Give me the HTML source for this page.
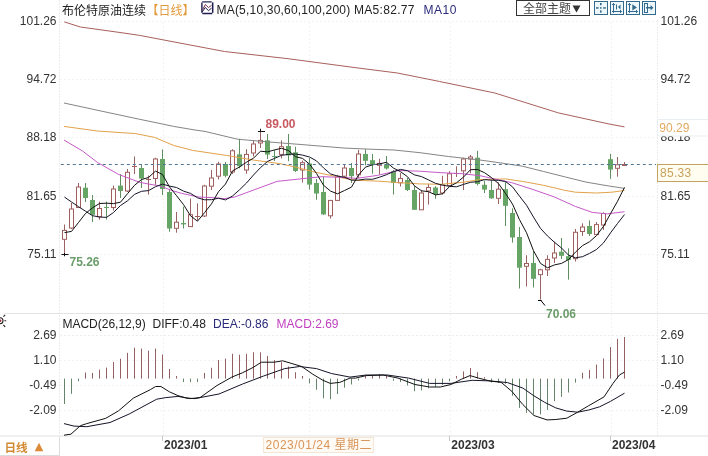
<!DOCTYPE html><html><head><meta charset="utf-8"><style>
html,body{margin:0;padding:0;background:#fff;}
body{width:708px;height:456px;overflow:hidden;position:relative;}
svg{position:absolute;left:0;top:0;display:block;}
text{font-family:'Liberation Sans','Noto Sans CJK SC',sans-serif;font-size:12px;}
.b{font-weight:bold;}
</style></head><body>
<svg width="708" height="456" viewBox="0 0 708 456">
<line x1="60" y1="21.5" x2="657" y2="21.5" stroke="#f3f3f3" stroke-width="1" stroke-dasharray="2,2"/>
<line x1="60" y1="79.5" x2="657" y2="79.5" stroke="#f3f3f3" stroke-width="1" stroke-dasharray="2,2"/>
<line x1="60" y1="137.5" x2="657" y2="137.5" stroke="#f3f3f3" stroke-width="1" stroke-dasharray="2,2"/>
<line x1="60" y1="196.5" x2="657" y2="196.5" stroke="#f3f3f3" stroke-width="1" stroke-dasharray="2,2"/>
<line x1="60" y1="254.5" x2="657" y2="254.5" stroke="#f3f3f3" stroke-width="1" stroke-dasharray="2,2"/>
<line x1="60" y1="335.5" x2="657" y2="335.5" stroke="#ececec" stroke-width="1" stroke-dasharray="2,2"/>
<line x1="60" y1="360.5" x2="657" y2="360.5" stroke="#f3f3f3" stroke-width="1" stroke-dasharray="2,2"/>
<line x1="60" y1="385.5" x2="657" y2="385.5" stroke="#f3f3f3" stroke-width="1" stroke-dasharray="2,2"/>
<line x1="60" y1="410.5" x2="657" y2="410.5" stroke="#f3f3f3" stroke-width="1" stroke-dasharray="2,2"/>
<line x1="163.5" y1="22" x2="163.5" y2="436" stroke="#f3f3f3" stroke-width="1" stroke-dasharray="2,2"/>
<line x1="309.5" y1="22" x2="309.5" y2="436" stroke="#f3f3f3" stroke-width="1" stroke-dasharray="2,2"/>
<line x1="450.5" y1="22" x2="450.5" y2="436" stroke="#f3f3f3" stroke-width="1" stroke-dasharray="2,2"/>
<line x1="611.5" y1="22" x2="611.5" y2="436" stroke="#f3f3f3" stroke-width="1" stroke-dasharray="2,2"/>
<line x1="59.5" y1="0" x2="59.5" y2="436" stroke="#ececec" stroke-width="1" stroke-dasharray="2,1"/>
<line x1="657.5" y1="20" x2="657.5" y2="436" stroke="#ececec" stroke-width="1" stroke-dasharray="2,1"/>
<line x1="5" y1="313.5" x2="708" y2="313.5" stroke="#e4e4e4" stroke-width="1"/>
<line x1="0" y1="436" x2="708" y2="436" stroke="#e0e0e0" stroke-width="1"/>
<line x1="59.5" y1="437" x2="59.5" y2="456" stroke="#dcdcdc" stroke-width="1"/>
<line x1="162.5" y1="436" x2="162.5" y2="441" stroke="#c8c8c8" stroke-width="1"/>
<line x1="449.5" y1="436" x2="449.5" y2="441" stroke="#c8c8c8" stroke-width="1"/>
<line x1="610.5" y1="436" x2="610.5" y2="441" stroke="#c8c8c8" stroke-width="1"/>
<line x1="64.5" y1="224.5" x2="64.5" y2="230.4" stroke="#9a6262" stroke-width="1"/>
<line x1="64.5" y1="239.3" x2="64.5" y2="254.5" stroke="#9a6262" stroke-width="1"/>
<rect x="62.5" y="230.4" width="4" height="8.9" fill="#fff" stroke="#a05e5e" stroke-width="1"/>
<line x1="71.5" y1="203.0" x2="71.5" y2="209.0" stroke="#9a6262" stroke-width="1"/>
<line x1="71.5" y1="228.0" x2="71.5" y2="229.0" stroke="#9a6262" stroke-width="1"/>
<rect x="69.5" y="209.0" width="4" height="19.0" fill="#fff" stroke="#a05e5e" stroke-width="1"/>
<line x1="78.5" y1="183.0" x2="78.5" y2="187.0" stroke="#9a6262" stroke-width="1"/>
<line x1="78.5" y1="207.5" x2="78.5" y2="208.0" stroke="#9a6262" stroke-width="1"/>
<rect x="76.5" y="187.0" width="4" height="20.5" fill="#fff" stroke="#a05e5e" stroke-width="1"/>
<line x1="85.5" y1="183.0" x2="85.5" y2="202.0" stroke="#5f8f5f" stroke-width="1"/>
<rect x="83.0" y="187.7" width="5" height="10.3" fill="#66a566"/>
<line x1="92.5" y1="195.0" x2="92.5" y2="222.0" stroke="#5f8f5f" stroke-width="1"/>
<rect x="90.0" y="200.0" width="5" height="14.8" fill="#66a566"/>
<line x1="99.5" y1="201.6" x2="99.5" y2="208.5" stroke="#9a6262" stroke-width="1"/>
<line x1="99.5" y1="216.7" x2="99.5" y2="219.7" stroke="#9a6262" stroke-width="1"/>
<rect x="97.5" y="208.5" width="4" height="8.2" fill="#fff" stroke="#a05e5e" stroke-width="1"/>
<line x1="106.5" y1="201.6" x2="106.5" y2="219.5" stroke="#5f8f5f" stroke-width="1"/>
<line x1="104.0" y1="207.5" x2="109.0" y2="207.5" stroke="#66a566" stroke-width="1"/>
<line x1="113.5" y1="185.6" x2="113.5" y2="189.0" stroke="#9a6262" stroke-width="1"/>
<line x1="113.5" y1="207.5" x2="113.5" y2="210.6" stroke="#9a6262" stroke-width="1"/>
<rect x="111.5" y="189.0" width="4" height="18.5" fill="#fff" stroke="#a05e5e" stroke-width="1"/>
<line x1="120.5" y1="174.0" x2="120.5" y2="198.0" stroke="#5f8f5f" stroke-width="1"/>
<rect x="118.0" y="185.6" width="5" height="5.4" fill="#66a566"/>
<line x1="127.5" y1="169.0" x2="127.5" y2="172.3" stroke="#9a6262" stroke-width="1"/>
<line x1="127.5" y1="191.0" x2="127.5" y2="192.0" stroke="#9a6262" stroke-width="1"/>
<rect x="125.5" y="172.3" width="4" height="18.7" fill="#fff" stroke="#a05e5e" stroke-width="1"/>
<line x1="134.5" y1="156.5" x2="134.5" y2="174.0" stroke="#9a6262" stroke-width="1"/>
<line x1="132.0" y1="166.5" x2="137.0" y2="166.5" stroke="#a05e5e" stroke-width="1"/>
<line x1="141.5" y1="164.6" x2="141.5" y2="188.0" stroke="#5f8f5f" stroke-width="1"/>
<rect x="139.0" y="168.0" width="5" height="10.5" fill="#66a566"/>
<line x1="148.5" y1="175.5" x2="148.5" y2="194.6" stroke="#9a6262" stroke-width="1"/>
<line x1="146.0" y1="179.5" x2="151.0" y2="179.5" stroke="#a05e5e" stroke-width="1"/>
<line x1="155.5" y1="157.7" x2="155.5" y2="159.0" stroke="#9a6262" stroke-width="1"/>
<line x1="155.5" y1="178.5" x2="155.5" y2="184.8" stroke="#9a6262" stroke-width="1"/>
<rect x="153.5" y="159.0" width="4" height="19.5" fill="#fff" stroke="#a05e5e" stroke-width="1"/>
<line x1="162.5" y1="149.4" x2="162.5" y2="195.0" stroke="#5f8f5f" stroke-width="1"/>
<rect x="160.0" y="159.0" width="5" height="30.0" fill="#66a566"/>
<line x1="169.5" y1="189.0" x2="169.5" y2="231.7" stroke="#5f8f5f" stroke-width="1"/>
<rect x="167.0" y="192.0" width="5" height="36.5" fill="#66a566"/>
<line x1="176.5" y1="212.0" x2="176.5" y2="222.2" stroke="#9a6262" stroke-width="1"/>
<line x1="176.5" y1="228.3" x2="176.5" y2="232.7" stroke="#9a6262" stroke-width="1"/>
<rect x="174.5" y="222.2" width="4" height="6.1" fill="#fff" stroke="#a05e5e" stroke-width="1"/>
<line x1="183.5" y1="206.7" x2="183.5" y2="228.5" stroke="#5f8f5f" stroke-width="1"/>
<rect x="181.0" y="223.0" width="5" height="1.4" fill="#66a566"/>
<line x1="190.5" y1="198.5" x2="190.5" y2="214.7" stroke="#9a6262" stroke-width="1"/>
<line x1="190.5" y1="226.6" x2="190.5" y2="227.0" stroke="#9a6262" stroke-width="1"/>
<rect x="188.5" y="214.7" width="4" height="11.9" fill="#fff" stroke="#a05e5e" stroke-width="1"/>
<line x1="197.5" y1="203.3" x2="197.5" y2="220.4" stroke="#9a6262" stroke-width="1"/>
<line x1="195.0" y1="216.5" x2="200.0" y2="216.5" stroke="#a05e5e" stroke-width="1"/>
<line x1="204.5" y1="184.8" x2="204.5" y2="186.0" stroke="#9a6262" stroke-width="1"/>
<line x1="204.5" y1="216.0" x2="204.5" y2="217.0" stroke="#9a6262" stroke-width="1"/>
<rect x="202.5" y="186.0" width="4" height="30.0" fill="#fff" stroke="#a05e5e" stroke-width="1"/>
<line x1="211.5" y1="170.0" x2="211.5" y2="178.0" stroke="#9a6262" stroke-width="1"/>
<line x1="211.5" y1="186.2" x2="211.5" y2="190.0" stroke="#9a6262" stroke-width="1"/>
<rect x="209.5" y="178.0" width="4" height="8.2" fill="#fff" stroke="#a05e5e" stroke-width="1"/>
<line x1="218.5" y1="161.7" x2="218.5" y2="164.0" stroke="#9a6262" stroke-width="1"/>
<line x1="218.5" y1="176.2" x2="218.5" y2="179.4" stroke="#9a6262" stroke-width="1"/>
<rect x="216.5" y="164.0" width="4" height="12.2" fill="#fff" stroke="#a05e5e" stroke-width="1"/>
<line x1="225.5" y1="162.0" x2="225.5" y2="177.3" stroke="#5f8f5f" stroke-width="1"/>
<rect x="223.0" y="164.0" width="5" height="11.8" fill="#66a566"/>
<line x1="232.5" y1="149.2" x2="232.5" y2="150.8" stroke="#9a6262" stroke-width="1"/>
<line x1="232.5" y1="172.0" x2="232.5" y2="174.0" stroke="#9a6262" stroke-width="1"/>
<rect x="230.5" y="150.8" width="4" height="21.2" fill="#fff" stroke="#a05e5e" stroke-width="1"/>
<line x1="239.5" y1="138.8" x2="239.5" y2="168.3" stroke="#5f8f5f" stroke-width="1"/>
<rect x="237.0" y="154.4" width="5" height="11.8" fill="#66a566"/>
<line x1="246.5" y1="149.2" x2="246.5" y2="154.4" stroke="#9a6262" stroke-width="1"/>
<line x1="246.5" y1="170.0" x2="246.5" y2="173.8" stroke="#9a6262" stroke-width="1"/>
<rect x="244.5" y="154.4" width="4" height="15.6" fill="#fff" stroke="#a05e5e" stroke-width="1"/>
<line x1="253.5" y1="140.8" x2="253.5" y2="144.0" stroke="#9a6262" stroke-width="1"/>
<line x1="253.5" y1="153.0" x2="253.5" y2="156.5" stroke="#9a6262" stroke-width="1"/>
<rect x="251.5" y="144.0" width="4" height="9.0" fill="#fff" stroke="#a05e5e" stroke-width="1"/>
<line x1="260.5" y1="130.8" x2="260.5" y2="140.4" stroke="#9a6262" stroke-width="1"/>
<line x1="260.5" y1="143.0" x2="260.5" y2="148.0" stroke="#9a6262" stroke-width="1"/>
<rect x="258.5" y="140.4" width="4" height="2.6" fill="#fff" stroke="#a05e5e" stroke-width="1"/>
<line x1="267.5" y1="134.0" x2="267.5" y2="159.0" stroke="#5f8f5f" stroke-width="1"/>
<rect x="265.0" y="140.4" width="5" height="14.2" fill="#66a566"/>
<line x1="274.5" y1="150.0" x2="274.5" y2="161.0" stroke="#5f8f5f" stroke-width="1"/>
<line x1="272.0" y1="156.5" x2="277.0" y2="156.5" stroke="#66a566" stroke-width="1"/>
<line x1="281.5" y1="140.4" x2="281.5" y2="146.7" stroke="#9a6262" stroke-width="1"/>
<line x1="281.5" y1="154.4" x2="281.5" y2="158.5" stroke="#9a6262" stroke-width="1"/>
<rect x="279.5" y="146.7" width="4" height="7.7" fill="#fff" stroke="#a05e5e" stroke-width="1"/>
<line x1="288.5" y1="134.0" x2="288.5" y2="161.2" stroke="#5f8f5f" stroke-width="1"/>
<rect x="286.0" y="146.0" width="5" height="9.4" fill="#66a566"/>
<line x1="295.5" y1="146.7" x2="295.5" y2="172.0" stroke="#5f8f5f" stroke-width="1"/>
<rect x="293.0" y="152.3" width="5" height="18.7" fill="#66a566"/>
<line x1="302.5" y1="160.6" x2="302.5" y2="162.7" stroke="#9a6262" stroke-width="1"/>
<line x1="302.5" y1="170.0" x2="302.5" y2="182.5" stroke="#9a6262" stroke-width="1"/>
<rect x="300.5" y="162.7" width="4" height="7.3" fill="#fff" stroke="#a05e5e" stroke-width="1"/>
<line x1="309.5" y1="158.0" x2="309.5" y2="189.6" stroke="#5f8f5f" stroke-width="1"/>
<rect x="307.0" y="163.5" width="5" height="21.1" fill="#66a566"/>
<line x1="316.5" y1="179.0" x2="316.5" y2="199.8" stroke="#5f8f5f" stroke-width="1"/>
<rect x="314.0" y="183.0" width="5" height="10.5" fill="#66a566"/>
<line x1="323.5" y1="177.0" x2="323.5" y2="215.0" stroke="#5f8f5f" stroke-width="1"/>
<rect x="321.0" y="192.0" width="5" height="22.4" fill="#66a566"/>
<line x1="330.5" y1="200.0" x2="330.5" y2="200.4" stroke="#9a6262" stroke-width="1"/>
<line x1="330.5" y1="215.8" x2="330.5" y2="218.5" stroke="#9a6262" stroke-width="1"/>
<rect x="328.5" y="200.4" width="4" height="15.4" fill="#fff" stroke="#a05e5e" stroke-width="1"/>
<line x1="337.5" y1="174.8" x2="337.5" y2="176.2" stroke="#9a6262" stroke-width="1"/>
<line x1="337.5" y1="200.4" x2="337.5" y2="201.0" stroke="#9a6262" stroke-width="1"/>
<rect x="335.5" y="176.2" width="4" height="24.2" fill="#fff" stroke="#a05e5e" stroke-width="1"/>
<line x1="344.5" y1="164.4" x2="344.5" y2="168.0" stroke="#9a6262" stroke-width="1"/>
<line x1="344.5" y1="176.2" x2="344.5" y2="177.0" stroke="#9a6262" stroke-width="1"/>
<rect x="342.5" y="168.0" width="4" height="8.2" fill="#fff" stroke="#a05e5e" stroke-width="1"/>
<line x1="351.5" y1="163.0" x2="351.5" y2="183.0" stroke="#5f8f5f" stroke-width="1"/>
<rect x="349.0" y="168.0" width="5" height="8.2" fill="#66a566"/>
<line x1="358.5" y1="149.8" x2="358.5" y2="154.0" stroke="#9a6262" stroke-width="1"/>
<line x1="358.5" y1="174.8" x2="358.5" y2="178.0" stroke="#9a6262" stroke-width="1"/>
<rect x="356.5" y="154.0" width="4" height="20.8" fill="#fff" stroke="#a05e5e" stroke-width="1"/>
<line x1="365.5" y1="149.2" x2="365.5" y2="165.4" stroke="#5f8f5f" stroke-width="1"/>
<rect x="363.0" y="154.0" width="5" height="6.8" fill="#66a566"/>
<line x1="372.5" y1="154.0" x2="372.5" y2="173.8" stroke="#5f8f5f" stroke-width="1"/>
<rect x="370.0" y="160.2" width="5" height="4.8" fill="#66a566"/>
<line x1="379.5" y1="158.8" x2="379.5" y2="163.4" stroke="#9a6262" stroke-width="1"/>
<line x1="379.5" y1="165.3" x2="379.5" y2="174.6" stroke="#9a6262" stroke-width="1"/>
<rect x="377.5" y="163.4" width="4" height="1.9" fill="#fff" stroke="#a05e5e" stroke-width="1"/>
<line x1="386.5" y1="156.0" x2="386.5" y2="169.6" stroke="#5f8f5f" stroke-width="1"/>
<rect x="384.0" y="164.4" width="5" height="4.1" fill="#66a566"/>
<line x1="393.5" y1="170.0" x2="393.5" y2="194.6" stroke="#5f8f5f" stroke-width="1"/>
<rect x="391.0" y="171.2" width="5" height="11.8" fill="#66a566"/>
<line x1="400.5" y1="173.0" x2="400.5" y2="178.4" stroke="#9a6262" stroke-width="1"/>
<line x1="400.5" y1="182.8" x2="400.5" y2="186.5" stroke="#9a6262" stroke-width="1"/>
<rect x="398.5" y="178.4" width="4" height="4.4" fill="#fff" stroke="#a05e5e" stroke-width="1"/>
<line x1="407.5" y1="178.0" x2="407.5" y2="191.0" stroke="#5f8f5f" stroke-width="1"/>
<rect x="405.0" y="180.0" width="5" height="10.0" fill="#66a566"/>
<line x1="414.5" y1="186.2" x2="414.5" y2="210.0" stroke="#5f8f5f" stroke-width="1"/>
<rect x="412.0" y="190.0" width="5" height="19.8" fill="#66a566"/>
<line x1="421.5" y1="190.0" x2="421.5" y2="193.0" stroke="#9a6262" stroke-width="1"/>
<line x1="421.5" y1="209.8" x2="421.5" y2="210.0" stroke="#9a6262" stroke-width="1"/>
<rect x="419.5" y="193.0" width="4" height="16.8" fill="#fff" stroke="#a05e5e" stroke-width="1"/>
<line x1="428.5" y1="183.8" x2="428.5" y2="187.5" stroke="#9a6262" stroke-width="1"/>
<line x1="428.5" y1="191.0" x2="428.5" y2="204.6" stroke="#9a6262" stroke-width="1"/>
<rect x="426.5" y="187.5" width="4" height="3.5" fill="#fff" stroke="#a05e5e" stroke-width="1"/>
<line x1="435.5" y1="186.2" x2="435.5" y2="198.8" stroke="#5f8f5f" stroke-width="1"/>
<rect x="433.0" y="187.5" width="5" height="6.5" fill="#66a566"/>
<line x1="442.5" y1="175.8" x2="442.5" y2="184.8" stroke="#9a6262" stroke-width="1"/>
<line x1="442.5" y1="193.0" x2="442.5" y2="194.6" stroke="#9a6262" stroke-width="1"/>
<rect x="440.5" y="184.8" width="4" height="8.2" fill="#fff" stroke="#a05e5e" stroke-width="1"/>
<line x1="449.5" y1="171.2" x2="449.5" y2="173.8" stroke="#9a6262" stroke-width="1"/>
<line x1="449.5" y1="185.4" x2="449.5" y2="186.2" stroke="#9a6262" stroke-width="1"/>
<rect x="447.5" y="173.8" width="4" height="11.7" fill="#fff" stroke="#a05e5e" stroke-width="1"/>
<line x1="456.5" y1="166.3" x2="456.5" y2="177.0" stroke="#9a6262" stroke-width="1"/>
<line x1="454.0" y1="173.5" x2="459.0" y2="173.5" stroke="#a05e5e" stroke-width="1"/>
<line x1="463.5" y1="157.7" x2="463.5" y2="159.0" stroke="#9a6262" stroke-width="1"/>
<line x1="463.5" y1="170.8" x2="463.5" y2="190.0" stroke="#9a6262" stroke-width="1"/>
<rect x="461.5" y="159.0" width="4" height="11.8" fill="#fff" stroke="#a05e5e" stroke-width="1"/>
<line x1="470.5" y1="155.0" x2="470.5" y2="157.0" stroke="#9a6262" stroke-width="1"/>
<line x1="470.5" y1="159.0" x2="470.5" y2="173.3" stroke="#9a6262" stroke-width="1"/>
<rect x="468.5" y="157.0" width="4" height="2.0" fill="#fff" stroke="#a05e5e" stroke-width="1"/>
<line x1="477.5" y1="150.8" x2="477.5" y2="185.4" stroke="#5f8f5f" stroke-width="1"/>
<rect x="475.0" y="157.7" width="5" height="26.3" fill="#66a566"/>
<line x1="484.5" y1="180.6" x2="484.5" y2="193.0" stroke="#5f8f5f" stroke-width="1"/>
<rect x="482.0" y="184.8" width="5" height="4.8" fill="#66a566"/>
<line x1="491.5" y1="180.0" x2="491.5" y2="198.8" stroke="#5f8f5f" stroke-width="1"/>
<rect x="489.0" y="190.0" width="5" height="8.3" fill="#66a566"/>
<line x1="498.5" y1="182.3" x2="498.5" y2="189.2" stroke="#9a6262" stroke-width="1"/>
<line x1="498.5" y1="198.3" x2="498.5" y2="204.0" stroke="#9a6262" stroke-width="1"/>
<rect x="496.5" y="189.2" width="4" height="9.1" fill="#fff" stroke="#a05e5e" stroke-width="1"/>
<line x1="505.5" y1="182.0" x2="505.5" y2="226.0" stroke="#5f8f5f" stroke-width="1"/>
<rect x="503.0" y="189.2" width="5" height="16.6" fill="#66a566"/>
<line x1="512.5" y1="208.3" x2="512.5" y2="242.7" stroke="#5f8f5f" stroke-width="1"/>
<rect x="510.0" y="213.0" width="5" height="24.5" fill="#66a566"/>
<line x1="519.5" y1="227.0" x2="519.5" y2="288.5" stroke="#5f8f5f" stroke-width="1"/>
<rect x="517.0" y="237.0" width="5" height="30.7" fill="#66a566"/>
<line x1="526.5" y1="255.2" x2="526.5" y2="263.5" stroke="#9a6262" stroke-width="1"/>
<line x1="526.5" y1="266.2" x2="526.5" y2="286.5" stroke="#9a6262" stroke-width="1"/>
<rect x="524.5" y="263.5" width="4" height="2.8" fill="#fff" stroke="#a05e5e" stroke-width="1"/>
<line x1="533.5" y1="251.0" x2="533.5" y2="287.5" stroke="#5f8f5f" stroke-width="1"/>
<rect x="531.0" y="263.0" width="5" height="15.8" fill="#66a566"/>
<line x1="540.5" y1="268.8" x2="540.5" y2="269.8" stroke="#9a6262" stroke-width="1"/>
<line x1="540.5" y1="274.6" x2="540.5" y2="299.6" stroke="#9a6262" stroke-width="1"/>
<rect x="538.5" y="269.8" width="4" height="4.8" fill="#fff" stroke="#a05e5e" stroke-width="1"/>
<line x1="547.5" y1="255.2" x2="547.5" y2="259.4" stroke="#9a6262" stroke-width="1"/>
<line x1="547.5" y1="269.8" x2="547.5" y2="276.0" stroke="#9a6262" stroke-width="1"/>
<rect x="545.5" y="259.4" width="4" height="10.4" fill="#fff" stroke="#a05e5e" stroke-width="1"/>
<line x1="554.5" y1="241.7" x2="554.5" y2="253.0" stroke="#9a6262" stroke-width="1"/>
<line x1="554.5" y1="258.0" x2="554.5" y2="263.0" stroke="#9a6262" stroke-width="1"/>
<rect x="552.5" y="253.0" width="4" height="5.0" fill="#fff" stroke="#a05e5e" stroke-width="1"/>
<line x1="561.5" y1="238.0" x2="561.5" y2="258.8" stroke="#5f8f5f" stroke-width="1"/>
<rect x="559.0" y="251.7" width="5" height="4.1" fill="#66a566"/>
<line x1="568.5" y1="248.3" x2="568.5" y2="279.6" stroke="#5f8f5f" stroke-width="1"/>
<rect x="566.0" y="256.2" width="5" height="3.8" fill="#66a566"/>
<line x1="575.5" y1="229.0" x2="575.5" y2="232.3" stroke="#9a6262" stroke-width="1"/>
<line x1="575.5" y1="258.8" x2="575.5" y2="261.5" stroke="#9a6262" stroke-width="1"/>
<rect x="573.5" y="232.3" width="4" height="26.4" fill="#fff" stroke="#a05e5e" stroke-width="1"/>
<line x1="582.5" y1="223.3" x2="582.5" y2="227.0" stroke="#9a6262" stroke-width="1"/>
<line x1="582.5" y1="231.5" x2="582.5" y2="236.0" stroke="#9a6262" stroke-width="1"/>
<rect x="580.5" y="227.0" width="4" height="4.5" fill="#fff" stroke="#a05e5e" stroke-width="1"/>
<line x1="589.5" y1="220.4" x2="589.5" y2="236.0" stroke="#5f8f5f" stroke-width="1"/>
<rect x="587.0" y="226.0" width="5" height="8.0" fill="#66a566"/>
<line x1="596.5" y1="222.0" x2="596.5" y2="224.6" stroke="#9a6262" stroke-width="1"/>
<line x1="596.5" y1="234.6" x2="596.5" y2="235.0" stroke="#9a6262" stroke-width="1"/>
<rect x="594.5" y="224.6" width="4" height="10.0" fill="#fff" stroke="#a05e5e" stroke-width="1"/>
<line x1="603.5" y1="212.3" x2="603.5" y2="213.5" stroke="#9a6262" stroke-width="1"/>
<line x1="603.5" y1="225.0" x2="603.5" y2="230.0" stroke="#9a6262" stroke-width="1"/>
<rect x="601.5" y="213.5" width="4" height="11.5" fill="#fff" stroke="#a05e5e" stroke-width="1"/>
<line x1="610.5" y1="153.8" x2="610.5" y2="178.8" stroke="#5f8f5f" stroke-width="1"/>
<rect x="608.0" y="159.2" width="5" height="10.4" fill="#66a566"/>
<line x1="617.5" y1="157.0" x2="617.5" y2="164.8" stroke="#9a6262" stroke-width="1"/>
<line x1="617.5" y1="168.3" x2="617.5" y2="176.7" stroke="#9a6262" stroke-width="1"/>
<rect x="615.5" y="164.8" width="4" height="3.5" fill="#fff" stroke="#a05e5e" stroke-width="1"/>
<line x1="624.5" y1="162.0" x2="624.5" y2="164.5" stroke="#9a6262" stroke-width="1"/>
<line x1="624.5" y1="165.3" x2="624.5" y2="165.8" stroke="#9a6262" stroke-width="1"/>
<rect x="622.5" y="164.5" width="4" height="1.0" fill="#fff" stroke="#a05e5e" stroke-width="1"/>
<polyline points="64.3,21.9 75.0,25.3 80.4,27.0 120.0,32.5 139.7,35.4 177.0,42.5 224.5,51.5 288.0,58.7 355.0,67.6 397.4,73.0 439.7,81.5 494.8,93.0 558.4,112.9 609.0,124.0 624.5,126.9" fill="none" stroke="#a8605c" stroke-width="1.0" stroke-linejoin="round" />
<polyline points="64.0,126.4 97.4,131.0 135.5,133.6 154.6,137.4 173.6,145.4 192.7,150.4 226.8,155.5 254.3,160.2 279.7,163.6 296.7,167.4 313.6,171.8 345.0,178.4 356.2,180.3 377.4,181.1 398.6,182.6 419.7,183.9 441.0,184.3 462.1,182.4 480.0,179.6 505.4,178.9 522.4,181.4 543.6,185.3 564.7,190.3 575.3,192.2 596.5,193.0 612.0,192.2 624.5,190.4" fill="none" stroke="#e2a24a" stroke-width="1.0" stroke-linejoin="round" />
<polyline points="64.0,103.0 100.0,110.8 139.7,119.3 158.0,123.1 173.6,126.4 195.0,130.0 205.0,131.4 237.4,139.2 269.2,142.0 301.0,144.5 345.0,148.1 370.0,149.2 394.0,150.0 420.0,152.7 448.5,156.5 480.0,160.0 505.4,163.6 522.4,166.2 543.6,171.5 564.7,176.8 586.0,182.1 607.0,185.7 624.5,188.4" fill="none" stroke="#858585" stroke-width="1.0" stroke-linejoin="round" />
<polyline points="64.0,140.0 82.5,151.0 97.4,162.4 118.5,174.4 139.7,182.3 150.0,184.3 160.6,186.0 171.2,190.3 181.8,193.4 198.7,197.0 213.6,197.7 224.2,198.7 234.7,197.0 255.9,189.2 277.1,181.4 301.0,178.8 322.0,176.7 345.0,177.5 356.2,178.4 377.4,175.4 398.6,170.5 419.7,171.2 441.0,172.7 462.1,173.7 480.0,175.7 492.7,178.5 511.8,182.7 533.0,189.5 554.2,196.9 575.3,206.4 592.3,212.4 607.1,213.9 624.5,211.7" fill="none" stroke="#c65ac8" stroke-width="1.0" stroke-linejoin="round" />
<polyline points="64.5,197.1 71.5,202.0 78.5,206.7 85.5,211.2 92.5,215.7 99.5,217.0 106.5,217.4 113.5,212.5 120.5,205.5 127.5,200.8 134.5,194.4 141.5,191.3 148.5,190.6 155.5,186.7 162.5,184.1 169.5,186.1 176.5,187.5 183.5,191.1 190.5,193.4 197.5,197.8 204.5,199.8 211.5,199.7 218.5,198.2 225.5,199.9 232.5,196.0 239.5,189.8 246.5,183.0 253.5,175.0 260.5,167.6 267.5,161.4 274.5,158.4 281.5,155.3 288.5,154.4 295.5,154.0 302.5,155.1 309.5,157.0 316.5,160.9 323.5,167.9 330.5,173.9 337.5,176.1 344.5,177.3 351.5,180.2 358.5,180.1 365.5,179.1 372.5,179.3 379.5,177.2 386.5,174.7 393.5,171.6 400.5,169.4 407.5,170.7 414.5,174.9 421.5,176.6 428.5,179.9 435.5,183.3 442.5,185.2 449.5,186.3 456.5,186.8 463.5,184.4 470.5,182.3 477.5,181.7 484.5,179.6 491.5,180.2 498.5,180.3 505.5,181.5 512.5,186.8 519.5,196.2 526.5,205.2 533.5,217.1 540.5,228.4 547.5,236.0 554.5,242.3 561.5,248.0 568.5,255.1 575.5,257.8 582.5,256.7 589.5,253.4 596.5,249.5 603.5,242.9 610.5,232.9 617.5,223.5 624.5,214.6" fill="none" stroke="#141428" stroke-width="1.0" stroke-linejoin="round" />
<polyline points="64.5,232.6 71.5,231.4 78.5,222.5 85.5,213.5 92.5,207.8 99.5,203.5 106.5,203.2 113.5,203.6 120.5,202.2 127.5,193.7 134.5,185.3 141.5,179.5 148.5,177.5 155.5,171.1 162.5,174.5 169.5,186.9 176.5,195.6 183.5,204.6 190.5,215.8 197.5,221.2 204.5,212.7 211.5,203.8 218.5,191.7 225.5,184.0 232.5,170.9 239.5,167.0 246.5,162.2 253.5,158.2 260.5,151.2 267.5,151.9 274.5,149.9 281.5,148.3 288.5,150.6 295.5,156.7 302.5,158.4 309.5,164.1 316.5,173.4 323.5,185.2 330.5,191.1 337.5,193.8 344.5,190.5 351.5,187.1 358.5,175.0 365.5,167.1 372.5,164.8 379.5,163.9 386.5,162.3 393.5,168.1 400.5,171.7 407.5,176.7 414.5,185.9 421.5,190.8 428.5,191.7 435.5,194.9 442.5,193.8 449.5,186.6 456.5,182.8 463.5,177.1 470.5,169.7 477.5,169.5 484.5,172.7 491.5,177.6 498.5,183.6 505.5,193.4 512.5,204.1 519.5,219.7 526.5,232.7 533.5,250.7 540.5,263.4 547.5,267.8 554.5,264.9 561.5,263.4 568.5,259.6 575.5,252.1 582.5,245.6 589.5,241.8 596.5,235.6 603.5,226.3 610.5,213.7 617.5,201.3 624.5,187.4" fill="none" stroke="#111111" stroke-width="1.0" stroke-linejoin="round" />
<line x1="60.8" y1="164.5" x2="656" y2="164.5" stroke="#4f7596" stroke-width="1" stroke-dasharray="3,3"/>
<path d="M258,131.5H265M260.5,128.8V132" stroke="#111" stroke-width="1" fill="none"/>
<text x="265.5" y="127.8" class="b" fill="#c85a62">89.00</text>
<path d="M61.5,254.5H68.5M64.5,253V256.3" stroke="#111" stroke-width="1" fill="none"/>
<text x="69.5" y="265.8" class="b" fill="#6a9c6a">75.26</text>
<path d="M538,300.5H541.5M540.5,300L545,305.5" stroke="#000" stroke-width="1" fill="none"/>
<text x="546" y="317.8" class="b" fill="#6a9c6a">70.06</text>
<line x1="64.5" y1="378.6" x2="64.5" y2="404.0" stroke="#66846c" stroke-width="1"/>
<line x1="71.5" y1="378.6" x2="71.5" y2="393.8" stroke="#66846c" stroke-width="1"/>
<line x1="78.5" y1="378.6" x2="78.5" y2="381.2" stroke="#66846c" stroke-width="1"/>
<line x1="85.5" y1="378.6" x2="85.5" y2="372.5" stroke="#946062" stroke-width="1"/>
<line x1="92.5" y1="378.6" x2="92.5" y2="373.0" stroke="#946062" stroke-width="1"/>
<line x1="99.5" y1="378.6" x2="99.5" y2="369.7" stroke="#946062" stroke-width="1"/>
<line x1="106.5" y1="378.6" x2="106.5" y2="367.6" stroke="#946062" stroke-width="1"/>
<line x1="113.5" y1="378.6" x2="113.5" y2="362.0" stroke="#946062" stroke-width="1"/>
<line x1="120.5" y1="378.6" x2="120.5" y2="358.7" stroke="#946062" stroke-width="1"/>
<line x1="127.5" y1="378.6" x2="127.5" y2="352.8" stroke="#946062" stroke-width="1"/>
<line x1="134.5" y1="378.6" x2="134.5" y2="347.7" stroke="#946062" stroke-width="1"/>
<line x1="141.5" y1="378.6" x2="141.5" y2="348.6" stroke="#946062" stroke-width="1"/>
<line x1="148.5" y1="378.6" x2="148.5" y2="350.7" stroke="#946062" stroke-width="1"/>
<line x1="155.5" y1="378.6" x2="155.5" y2="348.6" stroke="#946062" stroke-width="1"/>
<line x1="162.5" y1="378.6" x2="162.5" y2="354.6" stroke="#946062" stroke-width="1"/>
<line x1="169.5" y1="378.6" x2="169.5" y2="369.0" stroke="#946062" stroke-width="1"/>
<line x1="176.5" y1="378.6" x2="176.5" y2="376.0" stroke="#946062" stroke-width="1"/>
<line x1="183.5" y1="378.6" x2="183.5" y2="382.0" stroke="#66846c" stroke-width="1"/>
<line x1="190.5" y1="378.6" x2="190.5" y2="382.0" stroke="#66846c" stroke-width="1"/>
<line x1="197.5" y1="378.6" x2="197.5" y2="382.0" stroke="#66846c" stroke-width="1"/>
<line x1="204.5" y1="378.6" x2="204.5" y2="373.0" stroke="#946062" stroke-width="1"/>
<line x1="211.5" y1="378.6" x2="211.5" y2="367.8" stroke="#946062" stroke-width="1"/>
<line x1="218.5" y1="378.6" x2="218.5" y2="360.0" stroke="#946062" stroke-width="1"/>
<line x1="225.5" y1="378.6" x2="225.5" y2="358.6" stroke="#946062" stroke-width="1"/>
<line x1="232.5" y1="378.6" x2="232.5" y2="353.8" stroke="#946062" stroke-width="1"/>
<line x1="239.5" y1="378.6" x2="239.5" y2="354.7" stroke="#946062" stroke-width="1"/>
<line x1="246.5" y1="378.6" x2="246.5" y2="353.8" stroke="#946062" stroke-width="1"/>
<line x1="253.5" y1="378.6" x2="253.5" y2="352.3" stroke="#946062" stroke-width="1"/>
<line x1="260.5" y1="378.6" x2="260.5" y2="352.3" stroke="#946062" stroke-width="1"/>
<line x1="267.5" y1="378.6" x2="267.5" y2="355.9" stroke="#946062" stroke-width="1"/>
<line x1="274.5" y1="378.6" x2="274.5" y2="360.1" stroke="#946062" stroke-width="1"/>
<line x1="281.5" y1="378.6" x2="281.5" y2="362.2" stroke="#946062" stroke-width="1"/>
<line x1="288.5" y1="378.6" x2="288.5" y2="366.5" stroke="#946062" stroke-width="1"/>
<line x1="295.5" y1="378.6" x2="295.5" y2="372.2" stroke="#946062" stroke-width="1"/>
<line x1="302.5" y1="378.6" x2="302.5" y2="376.0" stroke="#946062" stroke-width="1"/>
<line x1="309.5" y1="378.6" x2="309.5" y2="383.4" stroke="#66846c" stroke-width="1"/>
<line x1="316.5" y1="378.6" x2="316.5" y2="389.8" stroke="#66846c" stroke-width="1"/>
<line x1="323.5" y1="378.6" x2="323.5" y2="398.3" stroke="#66846c" stroke-width="1"/>
<line x1="330.5" y1="378.6" x2="330.5" y2="399.3" stroke="#66846c" stroke-width="1"/>
<line x1="337.5" y1="378.6" x2="337.5" y2="394.0" stroke="#66846c" stroke-width="1"/>
<line x1="344.5" y1="378.6" x2="344.5" y2="387.7" stroke="#66846c" stroke-width="1"/>
<line x1="351.5" y1="378.6" x2="351.5" y2="384.5" stroke="#66846c" stroke-width="1"/>
<line x1="358.5" y1="378.6" x2="358.5" y2="380.5" stroke="#66846c" stroke-width="1"/>
<line x1="365.5" y1="378.6" x2="365.5" y2="375.0" stroke="#946062" stroke-width="1"/>
<line x1="372.5" y1="378.6" x2="372.5" y2="375.5" stroke="#946062" stroke-width="1"/>
<line x1="379.5" y1="378.6" x2="379.5" y2="374.3" stroke="#946062" stroke-width="1"/>
<line x1="386.5" y1="378.6" x2="386.5" y2="376.0" stroke="#946062" stroke-width="1"/>
<line x1="393.5" y1="378.6" x2="393.5" y2="380.7" stroke="#66846c" stroke-width="1"/>
<line x1="400.5" y1="378.6" x2="400.5" y2="382.0" stroke="#66846c" stroke-width="1"/>
<line x1="407.5" y1="378.6" x2="407.5" y2="385.5" stroke="#66846c" stroke-width="1"/>
<line x1="414.5" y1="378.6" x2="414.5" y2="391.3" stroke="#66846c" stroke-width="1"/>
<line x1="421.5" y1="378.6" x2="421.5" y2="390.4" stroke="#66846c" stroke-width="1"/>
<line x1="428.5" y1="378.6" x2="428.5" y2="388.3" stroke="#66846c" stroke-width="1"/>
<line x1="435.5" y1="378.6" x2="435.5" y2="387.0" stroke="#66846c" stroke-width="1"/>
<line x1="442.5" y1="378.6" x2="442.5" y2="384.9" stroke="#66846c" stroke-width="1"/>
<line x1="449.5" y1="378.6" x2="449.5" y2="381.3" stroke="#66846c" stroke-width="1"/>
<line x1="456.5" y1="378.6" x2="456.5" y2="376.0" stroke="#946062" stroke-width="1"/>
<line x1="463.5" y1="378.6" x2="463.5" y2="371.4" stroke="#946062" stroke-width="1"/>
<line x1="470.5" y1="378.6" x2="470.5" y2="368.0" stroke="#946062" stroke-width="1"/>
<line x1="477.5" y1="378.6" x2="477.5" y2="372.2" stroke="#946062" stroke-width="1"/>
<line x1="484.5" y1="378.6" x2="484.5" y2="377.1" stroke="#946062" stroke-width="1"/>
<line x1="491.5" y1="378.6" x2="491.5" y2="382.5" stroke="#66846c" stroke-width="1"/>
<line x1="498.5" y1="378.6" x2="498.5" y2="383.0" stroke="#66846c" stroke-width="1"/>
<line x1="505.5" y1="378.6" x2="505.5" y2="383.7" stroke="#66846c" stroke-width="1"/>
<line x1="512.5" y1="378.6" x2="512.5" y2="395.8" stroke="#66846c" stroke-width="1"/>
<line x1="519.5" y1="378.6" x2="519.5" y2="407.9" stroke="#66846c" stroke-width="1"/>
<line x1="526.5" y1="378.6" x2="526.5" y2="412.9" stroke="#66846c" stroke-width="1"/>
<line x1="533.5" y1="378.6" x2="533.5" y2="414.4" stroke="#66846c" stroke-width="1"/>
<line x1="540.5" y1="378.6" x2="540.5" y2="414.4" stroke="#66846c" stroke-width="1"/>
<line x1="547.5" y1="378.6" x2="547.5" y2="410.0" stroke="#66846c" stroke-width="1"/>
<line x1="554.5" y1="378.6" x2="554.5" y2="401.3" stroke="#66846c" stroke-width="1"/>
<line x1="561.5" y1="378.6" x2="561.5" y2="396.9" stroke="#66846c" stroke-width="1"/>
<line x1="568.5" y1="378.6" x2="568.5" y2="392.5" stroke="#66846c" stroke-width="1"/>
<line x1="575.5" y1="378.6" x2="575.5" y2="382.6" stroke="#66846c" stroke-width="1"/>
<line x1="582.5" y1="378.6" x2="582.5" y2="372.8" stroke="#946062" stroke-width="1"/>
<line x1="589.5" y1="378.6" x2="589.5" y2="369.9" stroke="#946062" stroke-width="1"/>
<line x1="596.5" y1="378.6" x2="596.5" y2="364.6" stroke="#946062" stroke-width="1"/>
<line x1="603.5" y1="378.6" x2="603.5" y2="358.5" stroke="#946062" stroke-width="1"/>
<line x1="610.5" y1="378.6" x2="610.5" y2="347.1" stroke="#946062" stroke-width="1"/>
<line x1="617.5" y1="378.6" x2="617.5" y2="338.8" stroke="#946062" stroke-width="1"/>
<line x1="624.5" y1="378.6" x2="624.5" y2="337.0" stroke="#946062" stroke-width="1"/>
<polyline points="64.0,423.6 74.0,426.1 86.8,426.7 110.0,422.5 129.2,414.0 156.7,399.2 165.2,397.7 177.9,396.4 190.6,398.6 200.0,397.6 219.0,394.0 242.4,384.1 263.6,376.0 284.7,368.6 299.6,366.5 316.5,368.6 331.4,373.5 350.0,377.1 366.2,375.0 387.4,375.0 408.6,378.1 429.7,383.4 450.9,383.4 472.1,380.3 490.0,380.9 507.5,382.6 522.9,388.1 533.9,395.8 544.8,402.4 555.8,407.9 566.8,411.1 577.7,412.2 588.7,410.0 599.6,406.8 610.6,401.3 624.5,393.2" fill="none" stroke="#141428" stroke-width="1.0" stroke-linejoin="round" />
<polyline points="64.0,435.2 70.9,434.2 80.4,425.7 86.8,423.6 105.8,418.3 118.6,410.8 133.4,398.1 144.0,392.8 150.3,389.7 155.6,386.5 160.9,386.5 169.4,391.8 177.9,395.6 186.4,398.1 194.8,398.6 200.0,397.6 217.0,385.5 231.8,377.1 242.4,372.8 253.0,367.5 261.4,362.2 274.2,362.2 282.6,360.8 291.1,363.3 301.7,366.5 312.3,373.9 322.9,380.3 330.3,383.4 339.8,382.4 350.0,378.1 355.6,378.1 366.2,375.6 383.1,375.0 398.0,378.1 414.9,384.5 429.7,387.0 440.3,387.0 450.9,384.5 461.5,379.2 470.0,375.6 478.5,378.1 491.2,381.3 501.0,382.2 511.9,391.4 522.9,404.6 533.9,415.5 547.0,419.9 555.8,419.5 566.8,418.2 577.7,412.2 588.7,405.7 604.0,396.9 612.8,383.7 619.4,375.0 624.5,372.1" fill="none" stroke="#111111" stroke-width="1.0" stroke-linejoin="round" />
<text x="56.5" y="24.8" text-anchor="end" fill="#333">101.26</text>
<text x="56.5" y="82.8" text-anchor="end" fill="#333">94.72</text>
<text x="56.5" y="140.8" text-anchor="end" fill="#333">88.18</text>
<text x="56.5" y="199.7" text-anchor="end" fill="#333">81.65</text>
<text x="56.5" y="257.6" text-anchor="end" fill="#333">75.11</text>
<text x="56.5" y="339.3" text-anchor="end" fill="#333">2.69</text>
<text x="56.5" y="364" text-anchor="end" fill="#333">1.10</text>
<text x="56.5" y="389.3" text-anchor="end" fill="#333">-0.49</text>
<text x="56.5" y="414.4" text-anchor="end" fill="#333">-2.09</text>
<text x="660.5" y="24.8" fill="#333">101.26</text>
<text x="660.5" y="82.8" fill="#333">94.72</text>
<text x="660.5" y="140.8" fill="#333">88.18</text>
<text x="660.5" y="199.7" fill="#333">81.65</text>
<text x="660.5" y="257.6" fill="#333">75.11</text>
<text x="660.5" y="339.3" fill="#333">2.69</text>
<text x="660.5" y="364" fill="#333">1.10</text>
<text x="660.5" y="389.3" fill="#333">-0.49</text>
<text x="660.5" y="414.4" fill="#333">-2.09</text>
<rect x="657.5" y="119.5" width="52" height="16.5" fill="#fff" stroke="#e9eef3" stroke-width="1"/>
<text x="659.3" y="132.1" fill="#e2aa62">90.29</text>
<rect x="657.5" y="164.5" width="52" height="17" fill="#fffcf0" stroke="#c4a263" stroke-width="1"/>
<text x="660" y="176.8" fill="#c9a25c" letter-spacing="0.3">85.33</text>
<text x="62" y="14.5" fill="#222">布伦特原油连续</text>
<text x="146.5" y="14.5" fill="#e39a3c">【日线】</text>
<g stroke="#1c1c50" fill="none"><path d="M202.2,1.9H211.8" stroke-width="1.2"/><path d="M202.3,13.5H212.3" stroke-width="1.5"/><path d="M201.9,2.4V12.8" stroke-width="1.4"/><path d="M212.7,2.4V12.8" stroke-width="1.5"/></g>
<polyline points="202.5,9.8 205.3,4.6 208.5,7.6 211.6,5.2" fill="none" stroke="#7a3048" stroke-width="1"/>
<polyline points="202.2,11.9 205.3,7.5 208.5,10.6 211.6,8.1" fill="none" stroke="#1c1c50" stroke-width="1"/>
<text x="216.5" y="13.6" fill="#222" letter-spacing="0.2">MA(5,10,30,60,100,200)</text>
<text x="354" y="13.6" fill="#222" letter-spacing="0.3">MA5:82.77</text>
<text x="423.5" y="13.6" fill="#2a2a7a" letter-spacing="0.5">MA10</text>
<rect x="516.5" y="0.5" width="73" height="15" fill="#fff" stroke="#333" stroke-width="1"/>
<text x="523" y="12.8" fill="#444">全部主题</text>
<path d="M572.5,5.5H580.5L576.5,12.5Z" fill="#333"/>
<rect x="594.5" y="1.5" width="13" height="13" fill="#eef8fc" stroke="#33698c" stroke-width="1"/>
<rect x="610.5" y="1.5" width="13" height="13" fill="#eef8fc" stroke="#33698c" stroke-width="1"/>
<rect x="626.5" y="1.5" width="13" height="13" fill="#eef8fc" stroke="#33698c" stroke-width="1"/>
<rect x="642.5" y="1.5" width="13" height="13" fill="#eef8fc" stroke="#33698c" stroke-width="1"/>
<g fill="#33698c"><rect x="600" y="3" width="1.6" height="2.2"/><rect x="600" y="7.2" width="1.6" height="1.5"/><rect x="600" y="10.4" width="1.6" height="2.2"/><rect x="596" y="7.2" width="2.6" height="1.5"/><rect x="603.2" y="7.2" width="2.6" height="1.5"/></g>
<g stroke="#33698c" stroke-width="1" fill="none"><path d="M613.5,3.5V12.5M612,5L613.5,3.5L615,5M612,11L613.5,12.5L615,11M613.5,11.5H621.5M620,10L621.5,11.5L620,13M616.5,4.5V9.5"/></g>
<path d="M620.5,4.5V9.5L618,7Z" fill="#33698c"/>
<g stroke="#33698c" stroke-width="1" fill="none"><path d="M629.5,3.5V12.5M628,5L629.5,3.5L631,5M628,11L629.5,12.5L631,11M629.5,11.5H637.5M636,10L637.5,11.5L636,13"/></g>
<path d="M632.3,4.2V10.6L637,7.4Z" fill="#33698c"/>
<rect x="644.5" y="3.5" width="3" height="9" fill="none" stroke="#33698c" stroke-width="1"/>
<path d="M646,7H651V8.6H646Z M650.6,5L653.4,7.8L650.6,10.4Z" fill="#33698c"/>
<text x="62.4" y="328" fill="#222">MACD(26,12,9)</text>
<text x="152.5" y="328" fill="#222">DIFF:0.48</text>
<text x="213" y="328" fill="#2a2a7a">DEA:-0.86</text>
<text x="276.5" y="328" fill="#c040c0">MACD:2.69</text>
<g stroke="#222" stroke-width="1.1" fill="none"><circle cx="0" cy="320.8" r="3"/><path d="M3.4,316.6L5.2,314.8M4.4,320.8H6.2M3.4,325L5.2,326.8"/></g>
<circle cx="0.2" cy="320.8" r="1.2" fill="#a03040"/>
<text x="4.5" y="451.6" class="b" fill="#d28a32" style="font-size:11.6px">日线</text>
<line x1="0" y1="455.5" x2="59" y2="455.5" stroke="#dcdcdc" stroke-width="1"/>
<path d="M34.7,451.3L39,442.8L43.3,451.3Z" fill="#dc8a36"/>
<text x="164" y="448.8" class="b" fill="#333">2023/01</text>
<rect x="263.5" y="437.5" width="110" height="15" fill="#fffaf3" stroke="#f3e6d6" stroke-width="1"/>
<text x="265.6" y="449.2" fill="#d9955a" letter-spacing="0.5">2023/01/24 星期二</text>
<text x="451.3" y="448.8" class="b" fill="#333">2023/03</text>
<text x="612" y="448.8" class="b" fill="#333">2023/04</text>
</svg></body></html>
